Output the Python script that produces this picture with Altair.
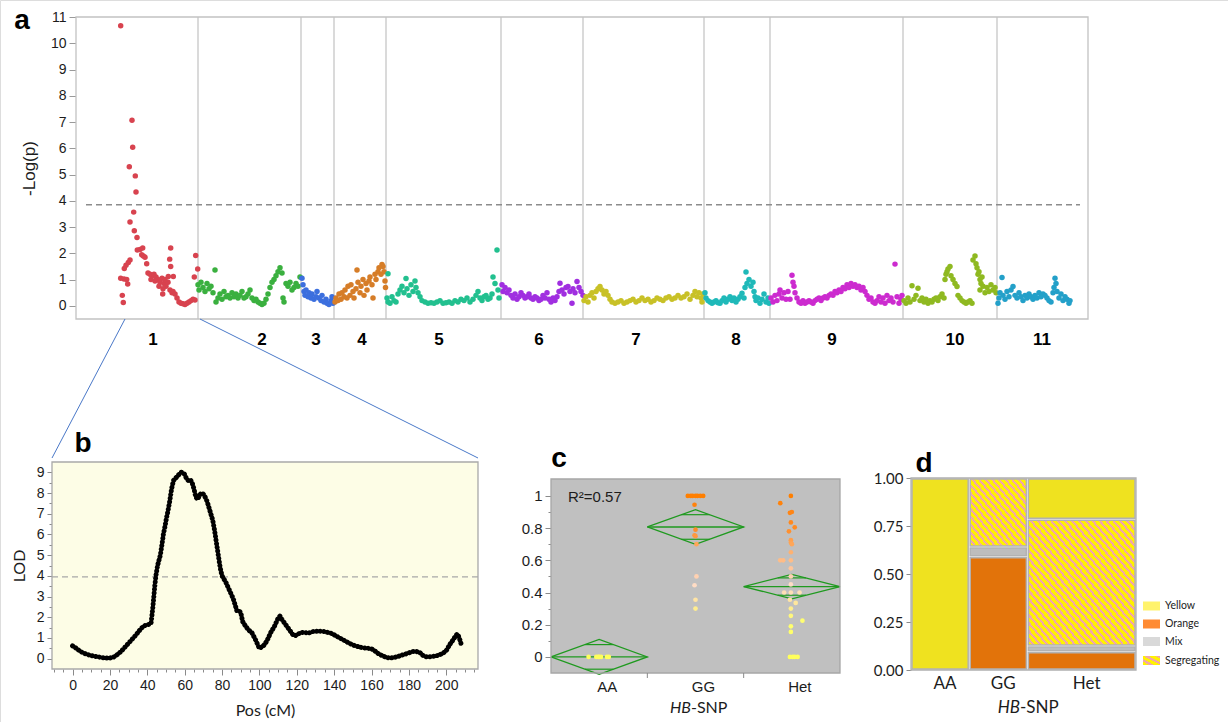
import altair as alt
import pandas as pd

SANS = "Liberation Sans"
SANS2 = "Lato"

# ---------------- panel a : -log10(p) per marker, cumulative map position ----------------
CHR1 = [(44.7, 10.67), (56, 7.07), (56.7, 6.04), (53.3, 5.3), (59.3, 4.95), (60, 4.34), (57.7, 3.57),
        (54, 3.19), (58.3, 2.86), (61, 2.6), (61.3, 2.13), (64, 2.15), (66.7, 2.2), (65.7, 1.95),
        (67.3, 1.9), (69, 1.85), (70.7, 1.6), (44.7, 1.05), (48, 1.02), (50.7, 1.0), (51.7, 0.83),
        (46.3, 0.4), (47.3, 0.13), (48.3, 1.42), (50, 1.55), (52.3, 1.65), (54, 1.75), (72, 1.25),
        (74, 1.2), (76, 1.15), (78, 1.2), (80, 1.1), (82, 1.0), (84, 0.9), (86, 1.05), (88, 0.85),
        (90, 0.75), (92, 0.9), (94, 0.6), (96, 0.5), (86.7, 0.45), (94.7, 2.2), (93.7, 1.78),
        (94.7, 1.5), (92.3, 1.12), (97.3, 1.12), (97, 0.55), (99, 0.45), (101, 0.3), (103, 0.15),
        (105, 0.1), (107, 0.08), (109, 0.05), (111, 0.1), (113, 0.15), (115, 0.2), (117, 0.25),
        (119, 0.22), (119.7, 1.92), (121.7, 1.4), (118.3, 1.1), (75, 1.0), (79, 0.95), (83, 0.75),
        (87, 0.65), (89, 1.0)]
CHR2 = [(122, 0.8), (123, 0.6), (125, 0.9), (127, 0.7), (129, 0.55), (131, 0.85), (133, 0.65),
        (135, 0.75), (137, 0.5), (139, 1.37), (140, 0.15), (142, 0.3), (144, 0.45), (146, 0.25),
        (148, 0.55), (150, 0.35), (152, 0.4), (154, 0.3), (156, 0.5), (158, 0.35), (160, 0.45),
        (162, 0.3), (164, 0.4), (166, 0.55), (168, 0.3), (170, 0.35), (172, 0.45), (174, 0.6),
        (176, 0.3), (178, 0.2), (180, 0.25), (182, 0.15), (184, 0.1), (186, 0.05), (188, 0.1),
        (190, 0.25), (192, 0.45), (194, 0.7), (196, 0.9), (198, 1.0), (200, 1.15), (202, 1.3),
        (204, 1.45), (206, 1.25), (207, 0.3), (208, 0.15), (210, 0.85), (212, 0.75), (214, 0.9),
        (216, 0.6), (218, 0.7), (220, 0.85), (222, 0.75), (224, 1.1)]
CHR3 = [(226, 1.05), (227, 0.8), (228, 0.55), (229, 0.4), (230, 0.6), (232, 0.35), (233, 0.5),
        (235, 0.3), (236, 0.45), (238, 0.25), (240, 0.35), (241, 0.55), (243, 0.3), (245, 0.2),
        (246, 0.4), (248, 0.15), (250, 0.25), (251, 0.1), (253, 0.05), (255, 0.2), (256, 0.35),
        (257, 0.1)]
CHR4 = [(259, 0.15), (260, 0.3), (262, 0.2), (263, 0.45), (265, 0.25), (266, 0.5), (268, 0.35),
        (269, 0.6), (271, 0.3), (272, 0.75), (274, 0.4), (275, 0.8), (277, 0.55), (278, 0.3),
        (280, 0.65), (281, 1.37), (282, 0.9), (284, 0.5), (285, 0.75), (287, 1.0), (288, 0.4),
        (290, 0.85), (291, 0.6), (293, 0.95), (294, 1.1), (296, 0.8), (297, 0.3), (299, 1.2),
        (300, 1.0), (302, 1.3), (303, 1.45), (305, 1.2), (306, 1.58), (307, 1.5), (308, 1.3),
        (309, 0.95), (309.5, 0.7)]
CHR5 = [(312, 1.22), (311, 0.3), (312, 0.15), (314, 0.1), (316, 0.35), (318, 0.2), (320, 0.15),
        (322, 0.45), (324, 0.6), (326, 0.75), (328, 0.5), (330, 1.04), (331, 0.65), (333, 0.4),
        (335, 0.8), (337, 0.55), (339, 0.95), (340, 0.7), (342, 0.5), (344, 0.35), (346, 0.2),
        (349, 0.15), (352, 0.1), (355, 0.12), (358, 0.1), (361, 0.15), (364, 0.2), (367, 0.1),
        (370, 0.12), (373, 0.15), (376, 0.1), (379, 0.2), (382, 0.15), (385, 0.25), (388, 0.2),
        (391, 0.3), (394, 0.15), (397, 0.25), (400, 0.4), (402, 0.55), (404, 0.3), (406, 0.2),
        (408, 0.35), (410, 0.4), (412, 0.25), (414, 0.3), (416, 0.45), (417, 1.1), (419, 0.85),
        (421, 2.13), (422, 0.6), (423, 0.3)]
CHR6 = [(426, 0.8), (427, 0.55), (429, 0.7), (431, 0.5), (433, 0.6), (435, 0.4), (437, 0.3),
        (439, 0.45), (441, 0.25), (443, 0.35), (445, 0.5), (447, 0.4), (449, 0.3), (451, 0.35),
        (453, 0.45), (455, 0.3), (457, 0.25), (459, 0.35), (461, 0.3), (463, 0.2), (465, 0.25),
        (467, 0.4), (469, 0.3), (471, 0.5), (473, 0.25), (475, 0.15), (477, 0.3), (479, 0.2),
        (481, 0.35), (483, 0.55), (484, 0.86), (486, 0.6), (488, 0.45), (490, 0.7), (492, 0.74),
        (494, 0.55), (496, 0.1), (497, 0.65), (499, 0.5), (501, 0.93), (503, 0.7), (505, 0.55),
        (507, 0.4)]
CHR7 = [(508, 0.2), (510, 0.35), (512, 0.15), (514, 0.4), (516, 0.5), (518, 0.3), (520, 0.55),
        (522, 0.65), (524, 0.74), (526, 0.6), (528, 0.45), (530, 0.55), (532, 0.4), (534, 0.25),
        (536, 0.15), (539, 0.1), (542, 0.15), (545, 0.2), (548, 0.1), (551, 0.15), (554, 0.2),
        (557, 0.25), (560, 0.15), (563, 0.2), (566, 0.3), (569, 0.2), (572, 0.25), (575, 0.15),
        (578, 0.2), (581, 0.3), (584, 0.25), (587, 0.2), (590, 0.3), (593, 0.35), (596, 0.25),
        (599, 0.3), (602, 0.4), (605, 0.3), (608, 0.35), (611, 0.45), (614, 0.25), (617, 0.4),
        (619, 0.55), (621, 0.35), (623, 0.5), (625, 0.3), (626, 0.15), (627, 0.45)]
CHR8 = [(629, 0.5), (630, 0.3), (632, 0.2), (634, 0.15), (636, 0.1), (638, 0.15), (640, 0.2),
        (642, 0.12), (644, 0.1), (646, 0.2), (648, 0.3), (650, 0.15), (652, 0.25), (654, 0.35),
        (656, 0.2), (658, 0.3), (660, 0.15), (662, 0.25), (664, 0.35), (666, 0.48), (668, 0.3),
        (669, 0.7), (670, 1.29), (671, 0.85), (673, 1.0), (675, 0.75), (677, 0.9), (678, 0.55),
        (679, 0.35), (680, 0.2), (682, 0.3), (684, 0.1), (686, 0.25), (688, 0.45), (690, 0.15),
        (692, 0.3), (693, 0.1)]
CHR9 = [(695, 0.3), (697, 0.15), (699, 0.4), (701, 0.2), (703, 0.45), (704, 0.6), (706, 0.3),
        (708, 0.5), (710, 0.25), (712, 0.55), (714, 0.25), (716, 1.17), (717, 0.9), (718, 0.75),
        (719, 0.5), (721, 0.3), (723, 0.15), (725, 0.1), (727, 0.2), (729, 0.1), (731, 0.15),
        (733, 0.2), (735, 0.15), (737, 0.1), (739, 0.2), (741, 0.25), (743, 0.3), (745, 0.2),
        (747, 0.3), (749, 0.35), (751, 0.3), (753, 0.4), (755, 0.45), (757, 0.4), (759, 0.55),
        (761, 0.5), (763, 0.6), (765, 0.55), (767, 0.7), (769, 0.65), (771, 0.8), (773, 0.7),
        (775, 0.85), (777, 0.75), (779, 0.8), (781, 0.7), (783, 0.75), (785, 0.6), (787, 0.7),
        (789, 0.55), (791, 0.4), (793, 0.25), (795, 0.3), (797, 0.15), (799, 0.1), (801, 0.2),
        (803, 0.35), (805, 0.15), (807, 0.3), (809, 0.1), (811, 0.4), (813, 0.2), (815, 0.3),
        (817, 0.15), (819, 1.59), (821, 0.35), (823, 0.1), (825, 0.25), (826, 0.4)]
CHR10 = [(828, 0.2), (830, 0.1), (832, 0.3), (834, 0.15), (836, 0.77), (838, 0.25), (840, 0.4),
         (842, 0.67), (844, 0.2), (846, 0.3), (848, 0.15), (850, 0.25), (852, 0.1), (854, 0.2),
         (856, 0.15), (858, 0.25), (860, 0.3), (862, 0.2), (864, 0.35), (866, 0.45), (868, 0.3),
         (869, 1.0), (870, 1.2), (871, 1.3), (872, 1.4), (874, 1.5), (875, 1.15), (877, 1.0),
         (879, 0.85), (881, 0.74), (882, 0.4), (884, 0.3), (886, 0.2), (888, 0.15), (890, 0.1),
         (892, 0.15), (894, 0.2), (896, 0.1), (897, 1.75), (899, 1.9), (900, 1.6), (901, 1.45),
         (902, 1.2), (903, 1.3), (904, 1.0), (905, 0.85), (906, 1.1), (904, 0.6), (907, 0.75),
         (909, 0.5), (911, 0.7), (913, 0.55), (915, 0.8), (917, 0.6), (919, 0.7), (920, 0.5)]
CHR11 = [(922, 0.1), (923, 0.3), (924, 0.5), (926, 1.08), (927, 0.4), (929, 0.25), (931, 0.55),
         (933, 0.35), (935, 0.6), (937, 0.74), (939, 0.4), (941, 0.3), (943, 0.5), (945, 0.35),
         (947, 0.2), (949, 0.4), (951, 0.3), (953, 0.45), (955, 0.35), (957, 0.25), (959, 0.4),
         (961, 0.3), (963, 0.5), (965, 0.35), (967, 0.45), (969, 0.4), (971, 0.3), (973, 0.2),
         (975, 0.15), (977, 0.5), (978, 0.7), (979, 1.05), (980, 0.85), (981, 0.55), (983, 0.3),
         (985, 0.45), (987, 0.2), (989, 0.35), (991, 0.25), (993, 0.1), (994, 0.2)]
CHROMS = [CHR1, CHR2, CHR3, CHR4, CHR5, CHR6, CHR7, CHR8, CHR9, CHR10, CHR11]
CHR_NAMES = ["1", "2", "3", "4", "5", "6", "7", "8", "9", "10", "11"]
CHR_COLORS = ["#d8434f", "#3ab03f", "#3c6fde", "#d67d28", "#22c08f", "#a02fe0",
              "#c8c127", "#1fb9b9", "#cc2bcf", "#8fb921", "#23a0c9"]
CHR_BOUNDS = [122, 225, 258, 310, 425, 507, 628, 694, 827, 921]
CHR_LABEL_POS = [77, 186, 240, 286, 363, 463, 560, 660, 756, 879, 966]
A_XMAX = 1012
THRESH_A = 3.85
THRESH_A_SPAN = (10, 1004)
A_YTICKS = [0, 1, 2, 3, 4, 5, 6, 7, 8, 9, 10, 11]

# ---------------- panel b : LOD profile on chromosome 1 ----------------
LOD = [(0, 0.62), (2, 0.5), (4, 0.36), (6, 0.26), (8, 0.2), (10, 0.15), (12, 0.11), (14, 0.08),
       (16, 0.05), (18, 0.03), (20, 0.03), (22, 0.08), (24, 0.2), (26, 0.35), (28, 0.55),
       (30, 0.75), (32, 0.95), (34, 1.15), (36, 1.38), (38, 1.58), (40, 1.63), (41, 1.66),
       (42, 1.7), (43, 2.5), (43.5, 3.0), (44, 3.5), (44.6, 4.0), (45.5, 4.5), (47, 5.0),
       (48, 5.6), (48.6, 6.0), (49.5, 6.4), (50.5, 6.9), (51, 7.1), (52, 7.6), (53, 8.2),
       (54, 8.6), (55, 8.7), (56, 8.8), (57, 8.9), (58, 9.0), (59, 9.0), (60, 8.9), (61, 8.7),
       (62, 8.6), (63, 8.65), (64, 8.5), (65, 8.2), (66, 7.8), (67, 7.7), (68, 7.9), (69, 8.0),
       (70, 7.95), (71, 7.8), (72, 7.6), (73, 7.3), (74, 7.0), (75, 6.7), (76, 6.2), (77, 5.6),
       (78, 5.0), (79, 4.4), (80, 4.0), (82, 3.7), (84, 3.3), (86, 2.9), (88, 2.3), (89, 2.3),
       (90, 2.25), (91, 1.8), (92, 1.65), (94, 1.4), (96, 1.25), (98, 0.9), (100, 0.5),
       (102, 0.6), (104, 0.85), (106, 1.25), (108, 1.55), (110, 1.95), (111, 2.05), (112, 1.9),
       (114, 1.65), (116, 1.4), (118, 1.15), (119, 1.1), (120, 1.15), (122, 1.25), (124, 1.28),
       (126, 1.22), (128, 1.3), (130, 1.32), (132, 1.33), (134, 1.32), (136, 1.28), (138, 1.24),
       (140, 1.15), (142, 1.05), (144, 0.95), (146, 0.85), (148, 0.75), (150, 0.66), (152, 0.6),
       (154, 0.55), (156, 0.52), (158, 0.5), (160, 0.48), (162, 0.36), (164, 0.22), (166, 0.13),
       (168, 0.06), (170, 0.03), (172, 0.05), (174, 0.1), (176, 0.16), (178, 0.22), (180, 0.28),
       (182, 0.34), (184, 0.35), (186, 0.28), (188, 0.12), (190, 0.08), (192, 0.1), (194, 0.12),
       (196, 0.17), (198, 0.25), (200, 0.38), (202, 0.7), (204, 0.95), (205, 1.1), (206, 1.2),
       (207, 1.0), (208, 0.7)]
THRESH_B = 3.95
B_XTICKS = [-10, -5, 0, 5, 10, 15, 20, 25, 30, 35, 40, 45, 50, 55, 60, 65, 70, 75, 80, 85, 90,
            95, 100, 105, 110, 115, 120, 125, 130, 135, 140, 145, 150, 155, 160, 165, 170, 175,
            180, 185, 190, 195, 200, 205, 210, 215]
B_YTICKS = [0, 0.5, 1, 1.5, 2, 2.5, 3, 3.5, 4, 4.5, 5, 5.5, 6, 6.5, 7, 7.5, 8, 8.5, 9]

# ---------------- panel c : phenotype score by HB-SNP genotype ----------------
C_GROUPS = ["AA", "GG", "Het"]
C_AA = [(0.39, 0.0), (0.47, 0.0), (0.49, 0.0), (0.5, 0.0), (0.52, 0.0), (0.58, 0.0), (0.6, 0.0)]
C_GG = [(1.42, 1.0), (1.45, 1.0), (1.47, 1.0), (1.5, 1.0), (1.52, 1.0), (1.55, 1.0), (1.58, 1.0),
        (1.49, 0.945), (1.5, 0.79), (1.49, 0.755), (1.5, 0.75), (1.51, 0.70), (1.51, 0.50),
        (1.49, 0.445), (1.5, 0.355), (1.5, 0.30)]
C_HET = [(2.49, 1.0), (2.38, 0.955), (2.5, 0.9), (2.48, 0.895), (2.49, 0.835), (2.53, 0.805),
         (2.47, 0.78), (2.49, 0.725), (2.49, 0.71), (2.5, 0.70), (2.49, 0.65), (2.38, 0.6),
         (2.41, 0.6), (2.49, 0.6), (2.49, 0.55), (2.49, 0.5), (2.49, 0.45), (2.42, 0.4),
         (2.49, 0.4), (2.58, 0.4), (2.48, 0.355), (2.54, 0.335), (2.49, 0.3), (2.49, 0.255),
         (2.61, 0.225), (2.49, 0.19), (2.49, 0.155), (2.48, 0.0), (2.51, 0.0), (2.53, 0.0),
         (2.56, 0.0)]
C_MEAN = [0.0, 0.807, 0.437]
C_CI = [0.108, 0.108, 0.076]
C_YTICKS = [0, 0.1, 0.2, 0.3, 0.4, 0.5, 0.6, 0.7, 0.8, 0.9, 1.0]
R2_TEXT = "R\u00b2=0.57"
C_COLOR_DOMAIN = [0, 0.22, 0.45, 0.68, 0.8, 1]
C_COLOR_RANGE = ["#ffff5c", "#ffff70", "#ffdcc6", "#ffab62", "#ff8a22", "#ff7f00"]

# ---------------- panel d : mosaic of fruit colour class by genotype ----------------
D_GENO = ["AA", "GG", "Het"]
D_COUNTS = [15, 15, 28]
D_AA = [("Yellow", 1.0)]
D_GG = [("Orange", 0.59), ("Mix", 0.05), ("Segregating", 0.36)]
D_HET = [("Orange", 0.095), ("Mix", 0.03), ("Segregating", 0.66), ("Yellow", 0.215)]
D_CATS = ["Yellow", "Orange", "Mix", "Segregating"]
D_FILL = ["#efe21f", "#e2730a", "#bdbdbd", "#fff200"]
D_LEGEND_FILL = ["#fff36c", "#ff8b33", "#d9d9d9", "#fff200"]
STRIPE_PINK = "#f2a8a2"
SEG_STRIPES = {"GG": 17, "Het": 31}
D_YTICKS = [0, 0.25, 0.5, 0.75, 1.0]

# =====================================================================================
# Page geometry (pixels) of each panel's plotting frame: left, right, top, bottom
PA = (76, 1088, 17, 319)
PB = (52, 478, 462, 669)
PC = (551, 840, 479, 673)
PD = (911, 1136, 478, 670)
PAGE_W, PAGE_H = 1228, 722

one = pd.DataFrame({"o": [0]})
TXT = "#1c1c1c"
layers = []


def vrect(x0, x1, y0, y1):
    return dict(x=alt.value(x0), x2=alt.value(x1), y=alt.value(y0), y2=alt.value(y1))


def frame(p, **kw):
    return alt.Chart(one).mark_rect(**kw).encode(**vrect(p[0], p[1], p[2], p[3]))


def letter(ch, x, y):
    return alt.Chart(one).mark_text(text=ch, font=SANS, fontSize=28, fontWeight="bold",
                                    align="center", baseline="alphabetic", color="black").encode(
        x=alt.value(x), y=alt.value(y))


def label(text, x, y, **kw):
    return alt.Chart(one).mark_text(text=text, baseline="middle", color=TXT, **kw).encode(
        x=alt.value(x), y=alt.value(y))


def stripes(n, c1, c2, frac=0.58):
    stops = []
    for i in range(n):
        a, b, c = i / n, (i + frac) / n, (i + 1) / n
        stops += [alt.GradientStop(color=c1, offset=a), alt.GradientStop(color=c1, offset=b),
                  alt.GradientStop(color=c2, offset=b), alt.GradientStop(color=c2, offset=min(c, 1))]
    return alt.LinearGradient(gradient="linear", stops=stops, x1=0, y1=1, x2=1, y2=0)


def xscale(domain, p):
    return alt.Scale(domain=domain, range=[p[0], p[1]], nice=False, zero=False)


def yscale(domain, p):
    return alt.Scale(domain=domain, range=[p[3], p[2]], nice=False, zero=False)


# ---------------- panel a ----------------
rows = []
for name, pts in zip(CHR_NAMES, CHROMS):
    for x, y in pts:
        rows.append({"chr": name, "x": x, "y": y})
df_a = pd.DataFrame(rows)

ax_a = alt.Axis(orient="left", offset=-PA[0], values=A_YTICKS, title="-Log(p)", grid=False, domain=False,
                tickSize=7, tickColor="#9a9a9a", labelFont=SANS, labelFontSize=14, labelColor=TXT,
                labelPadding=3, titleFont=SANS, titleFontSize=17, titleFontWeight="normal",
                titleColor=TXT, titlePadding=12)
XA = alt.X("x:Q", scale=xscale([0, A_XMAX], PA), axis=None)
YA0 = alt.Y("y:Q", scale=yscale([-0.5, 11], PA), axis=None)
YA = alt.Y("y:Q", scale=yscale([-0.5, 11], PA), axis=ax_a)

layers.append(frame(PA, color="white"))
layers.append(alt.Chart(pd.DataFrame({"x": CHR_BOUNDS})).mark_rule(color="#c6c6c6", strokeWidth=1.3).encode(
    x=XA, y=alt.value(PA[2]), y2=alt.value(PA[3])))
layers.append(alt.Chart(pd.DataFrame({"x": [THRESH_A_SPAN[0]], "x2": [THRESH_A_SPAN[1]], "y": [THRESH_A]})).mark_rule(
    color="#8c8c8c", strokeDash=[6, 4], strokeWidth=1.5).encode(x=XA, x2="x2:Q", y=YA0))
layers.append(alt.Chart(df_a).mark_circle(size=30, opacity=1).encode(
    x=XA, y=YA, color=alt.Color("chr:N", scale=alt.Scale(domain=CHR_NAMES, range=CHR_COLORS), legend=None)))
layers.append(frame(PA, fillOpacity=0, stroke="#c2c2c2", strokeWidth=1.3))
layers.append(alt.Chart(pd.DataFrame({"x": CHR_LABEL_POS, "label": CHR_NAMES})).mark_text(
    font=SANS, fontSize=17, fontWeight="bold", baseline="middle", color="black").encode(
    x=XA, y=alt.value(340), text="label:N"))
layers.append(alt.Chart(pd.DataFrame({"x": [49]})).mark_rule(color="#4a78c8", strokeWidth=1).encode(
    x=XA, x2=alt.value(52), y=alt.value(PA[3]), y2=alt.value(458)))
layers.append(alt.Chart(pd.DataFrame({"x": [124]})).mark_rule(color="#4a78c8", strokeWidth=1).encode(
    x=XA, x2=alt.value(478), y=alt.value(PA[3]), y2=alt.value(458)))
layers.append(letter("a", 22, 29))

# ---------------- panel b ----------------
df_b = pd.DataFrame(LOD, columns=["pos", "lod"])
ax_bx = alt.Axis(orient="bottom", offset=-(PAGE_H - PB[3]), values=B_XTICKS, grid=False, domain=False,
                 title="Pos (cM)",
                 labelExpr="datum.value % 20 === 0 && datum.value >= 0 && datum.value <= 200 ? format(datum.value, 'd') : ''",
                 tickSize={"condition": {"test": "datum.value % 20 === 0", "value": 6}, "value": 3},
                 tickColor="#8a8a8a", labelFont=SANS, labelFontSize=14, labelColor=TXT,
                 labelOverlap=False, labelFlush=False, labelPadding=3,
                 titleFont=SANS2, titleFontSize=16, titleFontWeight="normal", titleColor=TXT,
                 titlePadding=10)
ax_by = alt.Axis(orient="left", offset=-PB[0], values=B_YTICKS, grid=False, domain=False, title="LOD",
                 labelExpr="datum.value % 1 === 0 ? format(datum.value, 'd') : ''",
                 tickSize={"condition": {"test": "datum.value % 1 === 0", "value": 5}, "value": 3},
                 tickColor="#8a8a8a", labelFont=SANS, labelFontSize=14, labelColor=TXT,
                 labelOverlap=False, labelPadding=3,
                 titleFont=SANS2, titleFontSize=16, titleFontWeight="normal", titleColor=TXT,
                 titlePadding=9)
sx_b = xscale([-11, 217], PB)
sy_b = yscale([-0.5, 9.5], PB)

layers.append(frame(PB, color="#fdfde6"))
layers.append(alt.Chart(pd.DataFrame({"lod": [THRESH_B]})).mark_rule(
    color="#a8a8a8", strokeDash=[6, 4], strokeWidth=1.4).encode(
    y=alt.Y("lod:Q", scale=sy_b, axis=None), x=alt.value(PB[0]), x2=alt.value(PB[1])))
layers.append(alt.Chart(df_b).mark_line(color="black", strokeWidth=5, strokeCap="round",
                                        strokeDash=[0.1, 3.6]).encode(
    x=alt.X("pos:Q", scale=sx_b, axis=ax_bx), y=alt.Y("lod:Q", scale=sy_b, axis=ax_by)))
layers.append(frame(PB, fillOpacity=0, stroke="#a9a9a9", strokeWidth=1.3))
layers.append(letter("b", 83, 452))

# ---------------- panel c ----------------
GREEN = "#1f9a1f"
crow = []
for g, pts in zip(C_GROUPS, [C_AA, C_GG, C_HET]):
    for x, y in pts:
        crow.append({"g": g, "x": x, "y": y})
df_c = pd.DataFrame(crow)

dia, mean_rows, inner_rows = [], [], []
for gi, (g, m, h) in enumerate(zip(C_GROUPS, C_MEAN, C_CI)):
    x0, xc, x1 = gi, gi + 0.5, gi + 1
    for k, (xx, yy) in enumerate([(x0, m), (xc, m + h), (x1, m), (xc, m - h), (x0, m)]):
        dia.append({"g": g, "k": k, "x": xx, "y": yy})
    mean_rows.append({"x": x0, "x2": x1, "y": m})
    off = h / 2 ** 0.5
    half = 0.5 * (1 - 1 / 2 ** 0.5)
    inner_rows.append({"x": xc - half, "x2": xc + half, "y": m + off})
    inner_rows.append({"x": xc - half, "x2": xc + half, "y": m - off})

ax_cy = alt.Axis(orient="left", offset=-PC[0], values=C_YTICKS, grid=False, domain=False, title=None,
                 labelExpr="round(datum.value * 10) % 2 === 0 ? format(datum.value, '~g') : ''",
                 tickSize={"condition": {"test": "round(datum.value * 10) % 2 === 0", "value": 6}, "value": 3},
                 tickColor="#8a8a8a", labelFont=SANS, labelFontSize=15, labelColor=TXT,
                 labelOverlap=False, labelPadding=3)
sx_c = xscale([0, 3], PC)
sy_c = yscale([-0.1, 1.105], PC)
XC = alt.X("x:Q", scale=sx_c, axis=None)
YC0 = alt.Y("y:Q", scale=sy_c, axis=None)
YC = alt.Y("y:Q", scale=sy_c, axis=ax_cy)

layers.append(frame(PC, color="#c0c0c0"))
layers.append(alt.Chart(pd.DataFrame(dia)).mark_line(color=GREEN, strokeWidth=1.3).encode(
    x=XC, y=YC0, detail="g:N", order="k:Q"))
layers.append(alt.Chart(pd.DataFrame(mean_rows)).mark_rule(color=GREEN, strokeWidth=1.3).encode(
    x=XC, x2="x2:Q", y=YC0))
layers.append(alt.Chart(pd.DataFrame(inner_rows)).mark_rule(color=GREEN, strokeWidth=1.2).encode(
    x=XC, x2="x2:Q", y=YC0))
layers.append(alt.Chart(df_c).mark_circle(size=22, opacity=1).encode(
    x=XC, y=YC, color=alt.Color("y:Q", scale=alt.Scale(domain=C_COLOR_DOMAIN, range=C_COLOR_RANGE), legend=None)))
layers.append(frame(PC, fillOpacity=0, stroke="#a6a6a6", strokeWidth=1.3))
layers.append(label(R2_TEXT, 568, 497, font=SANS, fontSize=15, align="left"))
layers.append(alt.Chart(pd.DataFrame({"x": [0.5, 1.5, 2.5], "label": C_GROUPS})).mark_text(
    font=SANS, fontSize=15, dx=8, baseline="middle", color=TXT).encode(x=XC, y=alt.value(687), text="label:N"))
layers.append(alt.Chart(pd.DataFrame({"x": [1, 2]})).mark_rule(color="#8a8a8a").encode(
    x=XC, y=alt.value(PC[3]), y2=alt.value(PC[3] + 5)))
layers.append(label("HB", 691, 708, font=SANS2, fontSize=16, fontStyle="italic", align="right"))
layers.append(label("-SNP", 691, 708, font=SANS2, fontSize=16, align="left"))
layers.append(letter("c", 559, 467))

# ---------------- panel d ----------------
tot = float(sum(D_COUNTS))
rect_rows = []
xcur = 0.0
for geno, n, fr in zip(D_GENO, D_COUNTS, [D_AA, D_GG, D_HET]):
    w = n / tot
    ycur = 0.0
    for cat, f in fr:
        rect_rows.append({"geno": geno, "cat": cat, "x": xcur, "x2": xcur + w, "y": ycur, "y2": ycur + f})
        ycur += f
    xcur += w
df_d = pd.DataFrame(rect_rows)

ax_dy = alt.Axis(orient="left", offset=-PD[0], values=D_YTICKS, format=".2f", grid=False, domain=False,
                 title=None, tickSize=5, tickColor="#8a8a8a", labelFont=SANS2, labelFontSize=15,
                 labelColor=TXT, labelOverlap=False, labelPadding=3)
sx_d = xscale([0, 1], PD)
sy_d = yscale([0, 1], PD)
XD = alt.X("x:Q", scale=sx_d, axis=None)
YD0 = alt.Y("y:Q", scale=sy_d, axis=None)
YD = alt.Y("y:Q", scale=sy_d, axis=ax_dy)
rect_style = dict(stroke="#b2b2b2", strokeWidth=1.5, xOffset=1, x2Offset=-1, yOffset=-1, y2Offset=1)

layers.append(alt.Chart(df_d).transform_filter("datum.cat !== 'Segregating'").mark_rect(**rect_style).encode(
    x=XD, x2="x2:Q", y=YD, y2="y2:Q",
    color=alt.Color("cat:N", scale=alt.Scale(domain=D_CATS, range=D_FILL), legend=None)))
for geno, n in SEG_STRIPES.items():
    layers.append(alt.Chart(df_d).transform_filter(
        f"datum.cat === 'Segregating' && datum.geno === '{geno}'").mark_rect(
        fill=stripes(n, D_FILL[3], STRIPE_PINK), **rect_style).encode(x=XD, x2="x2:Q", y=YD0, y2="y2:Q"))

mids = []
for geno in D_GENO:
    r = df_d[df_d.geno == geno].iloc[0]
    mids.append((r["x"] + r["x2"]) / 2)
layers.append(alt.Chart(pd.DataFrame({"x": mids, "label": D_GENO})).mark_text(
    font=SANS2, fontSize=17, dx=5, baseline="middle", color=TXT).encode(x=XD, y=alt.value(684), text="label:N"))
layers.append(frame(PD, fillOpacity=0, stroke="#b0b0b0", strokeWidth=1.3))
layers.append(label("HB", 1020, 708, font=SANS2, fontSize=17, fontStyle="italic", align="right"))
layers.append(label("-SNP", 1020, 708, font=SANS2, fontSize=17, align="left"))

LEG_Y = [606, 624, 641.5, 660.5]
for cat, col, yc in zip(D_CATS, D_LEGEND_FILL, LEG_Y):
    fill = stripes(3, col, STRIPE_PINK, 0.55) if cat == "Segregating" else col
    layers.append(alt.Chart(one).mark_rect(fill=fill).encode(**vrect(1143, 1160, yc - 4.5, yc + 4.5)))
    layers.append(label(cat, 1165, yc, font=SANS2, fontSize=10.5, align="left"))
layers.append(letter("d", 924, 472))

# ---------------- assemble: one canvas, each panel with its own scales ----------------
chart = alt.layer(*layers).resolve_scale(
    x="independent", y="independent", color="independent"
).resolve_axis(x="independent", y="independent").properties(
    width=PAGE_W, height=PAGE_H, padding=0, autosize="none", background="white"
).configure_view(strokeWidth=0).configure(font=SANS)

chart.save("out.html", embed_options={"renderer": "svg", "actions": False})
